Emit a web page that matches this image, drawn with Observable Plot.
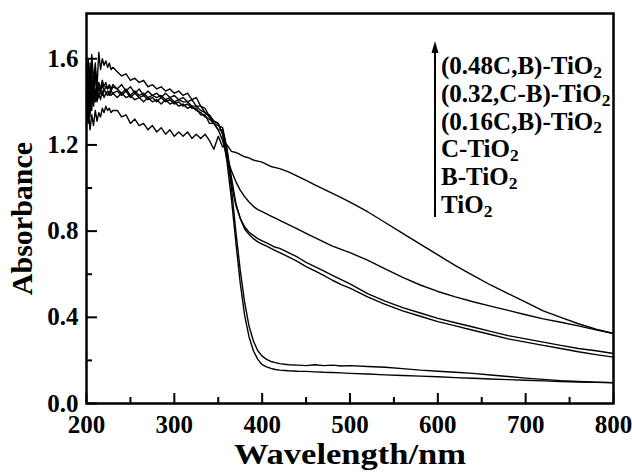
<!DOCTYPE html>
<html><head><meta charset="utf-8">
<script src="https://cdn.jsdelivr.net/npm/d3@7"></script>
<script src="https://cdn.jsdelivr.net/npm/@observablehq/plot@0.6"></script>
<style>
html,body{margin:0;padding:0;background:#fff;}
#wrap{position:relative;width:632px;height:472px;font-family:"Liberation Serif","Times New Roman",serif;font-weight:bold;color:#000;}
#legend{position:absolute;left:441px;top:52px;font-size:25px;line-height:27.8px;white-space:nowrap;}
#legend div{height:27.8px;}
#legend sub{font-size:0.7em;position:relative;top:0.22em;vertical-align:baseline;line-height:0;}
#arrow{position:absolute;left:0;top:0;pointer-events:none;}
</style></head><body><div id="wrap"></div>
<script>
// ---- data ----
const seriesNames = ["(0.48C,B)-TiO2", "(0.32,C-B)-TiO2", "(0.16C,B)-TiO2", "C-TiO2", "B-TiO2", "TiO2"];
const wavelength = [200,202,204,206,208,210,212,214,216,218,220,222,224,226,228,230,
235,240,245,250,255,260,265,270,275,280,285,290,295,300,305,310,315,320,325,330,335,340,345,350,
355,360,365,370,375,380,385,390,395,400,405,410,415,420,
430,440,450,460,470,480,490,500,
520,540,560,580,600,620,640,660,680,700,720,740,760,780,800];
const abs048CB = [1.30,1.38,1.27,1.34,1.29,1.36,1.31,1.35,1.33,1.37,1.35,1.38,1.36,1.37,1.35,1.36,
1.36,1.33,1.34,1.30,1.32,1.29,1.30,1.27,1.29,1.26,1.28,1.25,1.27,1.24,1.26,1.24,1.26,1.23,1.25,1.23,1.25,1.22,1.18,1.24,
1.19,1.20,1.17,1.165,1.155,1.145,1.14,1.13,1.125,1.12,1.11,1.10,1.095,1.09,
1.075,1.055,1.035,1.015,0.995,0.975,0.955,0.935,
0.89,0.84,0.79,0.74,0.69,0.64,0.595,0.55,0.51,0.47,0.43,0.40,0.37,0.345,0.325];
const abs032CB = [1.45,1.60,1.40,1.62,1.50,1.58,1.47,1.63,1.55,1.60,1.57,1.59,1.56,1.58,1.55,1.56,
1.54,1.52,1.53,1.50,1.51,1.49,1.50,1.47,1.48,1.46,1.47,1.45,1.46,1.44,1.45,1.43,1.44,1.41,1.42,1.38,1.37,1.33,1.30,1.27,
1.22,1.14,1.08,1.03,0.99,0.96,0.935,0.915,0.90,0.89,0.88,0.87,0.86,0.85,
0.83,0.81,0.79,0.77,0.75,0.73,0.715,0.70,
0.665,0.625,0.585,0.55,0.52,0.495,0.472,0.452,0.432,0.412,0.393,0.377,0.36,0.342,0.325];
const abs016CB = [1.38,1.52,1.35,1.50,1.42,1.55,1.44,1.49,1.46,1.50,1.47,1.49,1.46,1.48,1.46,1.48,
1.46,1.48,1.45,1.47,1.44,1.46,1.43,1.45,1.43,1.44,1.42,1.44,1.42,1.43,1.41,1.42,1.40,1.41,1.38,1.38,1.35,1.34,1.31,1.30,
1.25,1.15,1.02,0.92,0.86,0.82,0.795,0.78,0.765,0.755,0.745,0.735,0.725,0.72,
0.70,0.68,0.655,0.635,0.615,0.595,0.575,0.555,
0.51,0.475,0.445,0.42,0.395,0.375,0.355,0.335,0.315,0.30,0.285,0.27,0.255,0.245,0.232];
const absC = [1.42,1.30,1.48,1.36,1.52,1.40,1.47,1.42,1.45,1.43,1.46,1.44,1.45,1.43,1.45,1.44,
1.45,1.43,1.45,1.42,1.44,1.42,1.43,1.41,1.42,1.40,1.42,1.40,1.41,1.39,1.40,1.38,1.39,1.37,1.37,1.34,1.34,1.30,1.30,1.27,
1.27,1.18,1.05,0.93,0.86,0.81,0.785,0.765,0.75,0.74,0.73,0.72,0.71,0.70,
0.68,0.66,0.635,0.615,0.595,0.572,0.552,0.535,
0.495,0.46,0.43,0.405,0.38,0.36,0.34,0.32,0.30,0.285,0.27,0.255,0.24,0.227,0.215];
const absB = [1.35,1.48,1.33,1.55,1.38,1.46,1.40,1.44,1.41,1.45,1.42,1.44,1.43,1.45,1.43,1.44,
1.42,1.44,1.42,1.43,1.41,1.42,1.40,1.42,1.40,1.41,1.39,1.41,1.39,1.40,1.38,1.39,1.37,1.38,1.36,1.35,1.33,1.32,1.30,1.29,
1.28,1.18,1.00,0.80,0.62,0.47,0.36,0.29,0.245,0.22,0.205,0.195,0.19,0.185,
0.18,0.178,0.176,0.18,0.176,0.178,0.174,0.176,
0.172,0.168,0.162,0.155,0.15,0.145,0.14,0.132,0.125,0.118,0.112,0.106,0.102,0.099,0.097];
const absTiO2 = [1.45,1.36,1.58,1.40,1.46,1.52,1.42,1.47,1.44,1.48,1.45,1.47,1.46,1.47,1.45,1.47,
1.46,1.44,1.46,1.43,1.45,1.43,1.44,1.42,1.43,1.42,1.43,1.41,1.42,1.40,1.41,1.40,1.40,1.38,1.38,1.36,1.35,1.33,1.31,1.30,
1.25,1.12,0.95,0.75,0.56,0.41,0.31,0.245,0.205,0.18,0.17,0.163,0.158,0.155,
0.152,0.15,0.149,0.147,0.145,0.144,0.142,0.14,
0.137,0.133,0.13,0.127,0.124,0.12,0.117,0.114,0.111,0.108,0.105,0.102,0.1,0.098,0.096];
const seriesValues = [abs048CB, abs032CB, abs016CB, absC, absB, absTiO2];
const xMajor = [200,300,400,500,600,700,800];
const xMinor = [250,350,450,550,650,750];
const yMajor = [0.0,0.4,0.8,1.2,1.6];
const yMinor = [0.2,0.6,1.0,1.4];
const xTitle = "Wavelength/nm";
const yTitle = "Absorbance";

// ---- chart ----
const W = 632, H = 472, mL = 86, mR = 19, mT = 13, mB = 69;
const xDom = [200, 800], yDom = [0, 1.81];
const rows = [];
seriesNames.forEach((name, k) => wavelength.forEach((w, i) => rows.push({w, a: seriesValues[k][i], name})));
const font = '"Liberation Serif","Times New Roman",serif';
const blank = () => "";

const chart = Plot.plot({
  width: W, height: H, marginLeft: mL, marginRight: mR, marginTop: mT, marginBottom: mB,
  x: {domain: xDom, label: null},
  y: {domain: yDom, label: null},
  style: {fontFamily: font, fontWeight: "bold", fontSize: "25px", color: "#000", background: "#fff", overflow: "visible"},
  marks: [
    Plot.line(rows, {x: "w", y: "a", z: "name", stroke: "#000", strokeWidth: 1.4}),
    // inward ticks: axis ticks shifted inside the frame
    Plot.axisX(xMajor, {anchor: "bottom", tickSize: 10, dy: -10, tickFormat: blank, strokeWidth: 2, label: null}),
    Plot.axisX(xMinor, {anchor: "bottom", tickSize: 6, dy: -6, tickFormat: blank, strokeWidth: 2, label: null}),
    Plot.axisY(yMajor, {anchor: "left", tickSize: 11, dx: 11, tickFormat: blank, strokeWidth: 2, label: null}),
    Plot.axisY(yMinor, {anchor: "left", tickSize: 6, dx: 6, tickFormat: blank, strokeWidth: 2, label: null}),
    // tick labels
    Plot.axisX(xMajor, {anchor: "bottom", tickSize: 0, tickPadding: 12, tickFormat: d => String(d), fontSize: 25, fontWeight: "bold", label: null}),
    Plot.axisY(yMajor, {anchor: "left", tickSize: 0, tickPadding: 8, tickFormat: d3.format(".1f"), fontSize: 25, fontWeight: "bold", label: null}),
    Plot.frame({stroke: "#000", strokeWidth: 2.5}),
    Plot.text([xTitle], {frameAnchor: "bottom", text: d => d, dy: 51, lineAnchor: "middle", textAnchor: "middle", fontSize: 30, fontWeight: "bold"}),
    Plot.text([yTitle], {frameAnchor: "left", text: d => d, dx: -64, dy: 10, rotate: -90, lineAnchor: "middle", textAnchor: "middle", fontSize: 30, fontWeight: "bold"})
  ]
});
const wrap = document.getElementById("wrap");
wrap.appendChild(chart);
// widen the x title to the reference's span
chart.querySelectorAll("text").forEach(t => {
  if (t.textContent === xTitle) { t.setAttribute("textLength", 232); t.setAttribute("lengthAdjust", "spacingAndGlyphs"); }
});

// legend (annotation inside the plot area)
const legend = document.createElement("div");
legend.id = "legend";
seriesNames.forEach(name => {
  const line = document.createElement("div");
  const m = name.match(/^(.*)(2)$/);
  line.innerHTML = m ? `${m[1]}<sub>${m[2]}</sub>` : name;
  legend.appendChild(line);
});
wrap.appendChild(legend);
const ns = "http://www.w3.org/2000/svg";
const arr = document.createElementNS(ns, "svg");
arr.setAttribute("id", "arrow");
arr.setAttribute("width", W); arr.setAttribute("height", H);
arr.innerHTML = '<line x1="435" y1="50" x2="435" y2="217" stroke="#000" stroke-width="2"/><polygon points="435,41 431.5,53 438.5,53" fill="#000"/>';
wrap.appendChild(arr);
</script></body></html>
